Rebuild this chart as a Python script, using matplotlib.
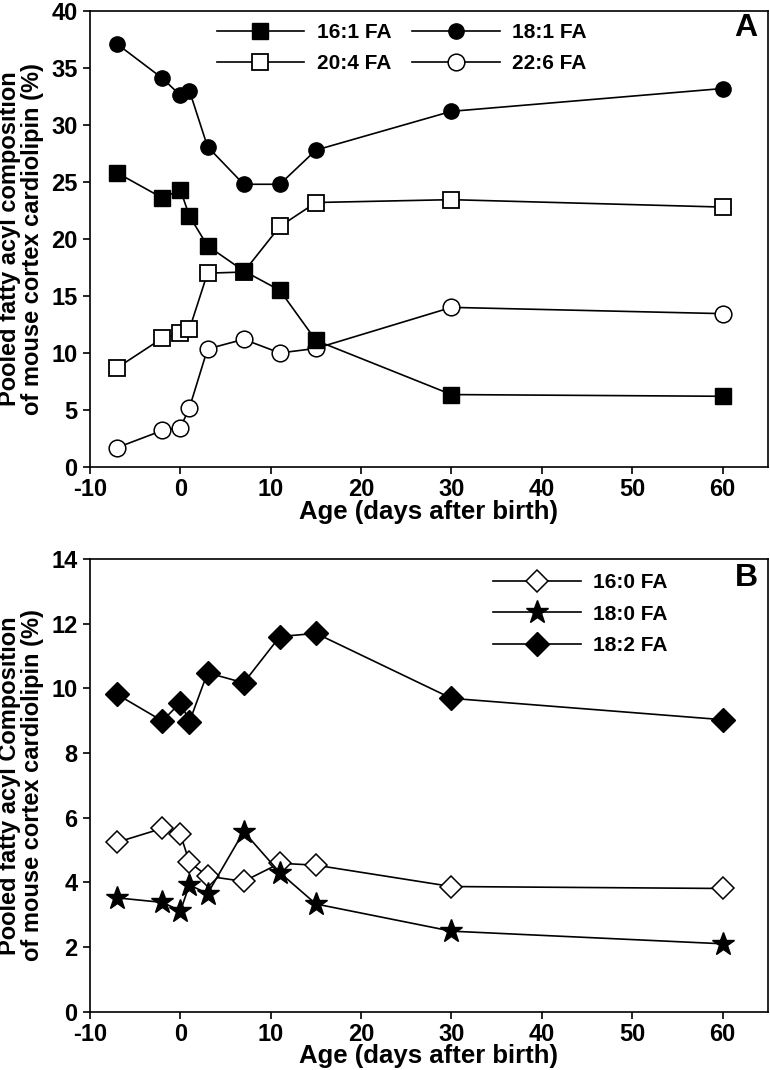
import matplotlib
matplotlib.use('Agg')
import matplotlib.pyplot as plt

plt.rcParams['font.family'] = ['Liberation Sans Narrow', 'Liberation Sans', 'DejaVu Sans']
plt.rcParams['font.weight'] = 'bold'
plt.rcParams['axes.unicode_minus'] = False

age = [-7, -2, 0, 1, 3, 7, 11, 15, 30, 60]

# panel A
fa_16_1 = [25.8, 23.6, 24.3, 22.0, 19.4, 17.2, 15.5, 11.1, 6.35, 6.2]
fa_18_1 = [37.1, 34.1, 32.6, 33.0, 28.1, 24.8, 24.8, 27.8, 31.2, 33.2]
fa_20_4 = [8.7, 11.3, 11.75, 12.1, 17.0, 17.1, 21.1, 23.2, 23.45, 22.8]
fa_22_6 = [1.7, 3.2, 3.45, 5.2, 10.35, 11.2, 10.0, 10.4, 14.0, 13.45]

# panel B
fa_16_0 = [5.24, 5.67, 5.48, 4.62, 4.19, 4.03, 4.59, 4.53, 3.87, 3.81]
fa_18_0 = [3.52, 3.38, 3.12, 3.92, 3.65, 5.57, 4.3, 3.33, 2.49, 2.1]
fa_18_2 = [9.81, 8.99, 9.56, 8.97, 10.48, 10.17, 11.6, 11.7, 9.69, 9.03]

fig = plt.figure(figsize=(7.7, 10.7), dpi=100)
ax1 = fig.add_axes([0.117, 0.5636, 0.88, 0.4261])
ax2 = fig.add_axes([0.117, 0.0545, 0.88, 0.4231])

lw = 1.2
h1, = ax1.plot(age, fa_16_1, '-s', color='black', mfc='black', ms=12, lw=lw, label='16:1 FA')
h2, = ax1.plot(age, fa_18_1, '-o', color='black', mfc='black', ms=11, lw=lw, label='18:1 FA')
h3, = ax1.plot(age, fa_20_4, '-s', color='black', mfc='white', ms=12, mew=1.3, lw=lw, label='20:4 FA')
h4, = ax1.plot(age, fa_22_6, '-o', color='black', mfc='white', ms=12, mew=1.1, lw=lw, label='22:6 FA')
# keep filled squares on top of open ones
h1.set_zorder(4)

ax1.legend(handles=[h1, h3, h2, h4], ncol=2, frameon=False, loc='upper center',
           bbox_to_anchor=(0.46, 1.015), handlelength=4.2, columnspacing=1.0,
           fontsize=15, labelspacing=0.6, handletextpad=0.6)
ax1.set_ylim(0, 40)
ax1.set_yticks(range(0, 41, 5))
ax1.set_ylabel('Pooled fatty acyl composition\nof mouse cortex cardiolipin (%)',
               fontsize=17, fontweight='bold', labelpad=5, linespacing=1.0)
ax1.text(0.985, 0.995, 'A', transform=ax1.transAxes, ha='right', va='top',
         fontsize=23, fontweight='bold')

ax2.plot(age, fa_16_0, '-D', color='black', mfc='white', ms=11, mew=1.1, lw=lw, label='16:0 FA')
ax2.plot(age, fa_18_0, '-*', color='black', mfc='black', ms=17, lw=lw, label='18:0 FA')
ax2.plot(age, fa_18_2, '-D', color='black', mfc='black', ms=12, lw=lw, label='18:2 FA')
ax2.legend(frameon=False, loc='upper right', bbox_to_anchor=(0.88, 1.01),
           handlelength=4.2, fontsize=15, labelspacing=0.6, handletextpad=0.6)
ax2.set_ylim(0, 14)
ax2.set_yticks(range(0, 15, 2))
ax2.set_ylabel('Pooled fatty acyl Composition\nof mouse cortex cardiolipin (%)',
               fontsize=17, fontweight='bold', labelpad=5, linespacing=1.0)
ax2.text(0.985, 0.99, 'B', transform=ax2.transAxes, ha='right', va='top',
         fontsize=23, fontweight='bold')

for ax in (ax1, ax2):
    ax.set_xlim(-10, 65)
    ax.set_xticks(range(-10, 61, 10))
    ax.set_xlabel('Age (days after birth)', fontsize=18.5, fontweight='bold', labelpad=-1)
    ax.tick_params(labelsize=17, length=5, width=1.2, direction='out')
    ax.tick_params(axis='x', pad=3)
    ax.tick_params(axis='y', pad=4)
    for s in ax.spines.values():
        s.set_linewidth(1.2)

fig.savefig('out.png', dpi=100)
